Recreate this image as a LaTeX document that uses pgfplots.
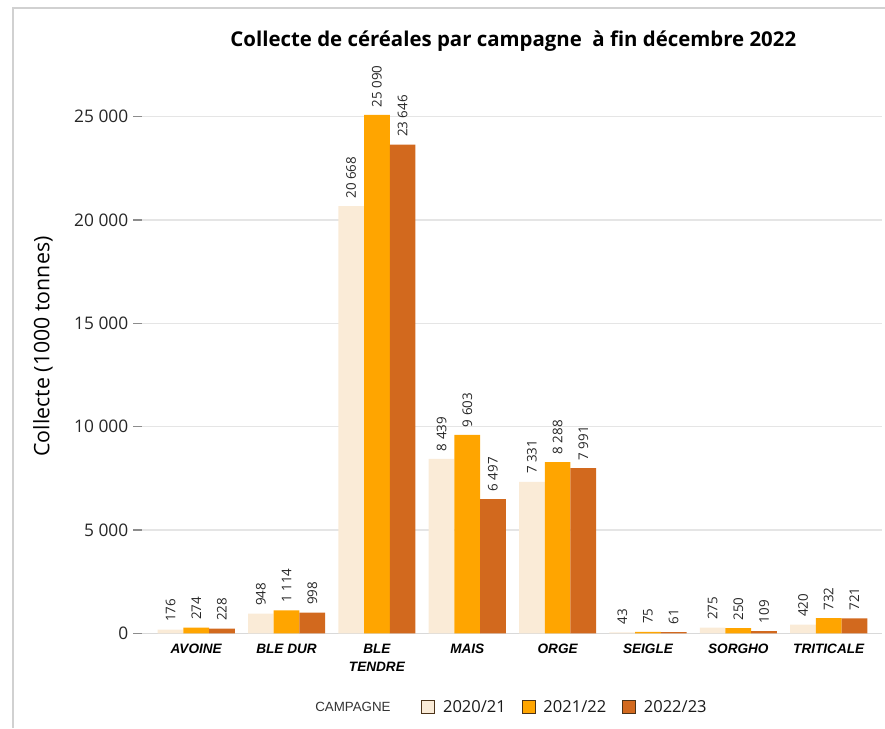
\documentclass[border=0pt]{standalone}
\usepackage{pgfplots}
\pgfplotsset{compat=1.18}
\usepackage{fontspec}
\setmainfont{Open Sans}
\newfontfamily\arialf{Liberation Sans}
\definecolor{cA}{RGB}{250,235,215}
\definecolor{cB}{RGB}{255,165,0}
\definecolor{cC}{RGB}{210,105,30}
\newcommand{\p}[1]{#1*0.75pt}
\begin{document}
\begin{tikzpicture}
\path[use as bounding box] (0,0) rectangle (\p{885},-\p{728});
\draw[color=black!18, line width=1.5pt] (\p{13.3},-\p{728}) -- (\p{13.3},-\p{8.3}) -- (\p{885},-\p{8.3});
\node[anchor=base, font=\bfseries\fontsize{15.3}{18}\selectfont, inner sep=0pt] at (\p{513.3},-\p{46.7}) {Collecte de céréales par campagne~~à fin décembre 2022};
\node[rotate=90, anchor=center, font=\fontsize{16}{19}\selectfont, inner sep=0pt] at (\p{43},-\p{346.5}) {Collecte (1000 tonnes)};
\node[anchor=west, inner sep=0pt, font=\arialf\fontsize{10}{12}\selectfont, text=black!80] at (\p{315},-\p{707.3}) {CAMPAGNE};
\begin{axis}[
  at={(\p{142},-\p{633.3})}, anchor=south west,
  scale only axis, width=\p{740}, height=\p{557.9},
  xmin=-0.6, xmax=7.59, ymin=0, ymax=27000,
  enlargelimits=false, clip=false,
  axis lines*=left,
  x axis line style={draw=black!15, line width=1.2pt},
  y axis line style={draw=none},
  ybar=0pt, bar width=\p{25.7},
  xtick={0,...,7},
  xticklabels={AVOINE,BLE DUR,{BLE\\[1.5pt]TENDRE},MAIS,ORGE,SEIGLE,SORGHO,TRITICALE},
  xtick style={draw=none},
  xticklabel style={font=\arialf\bfseries\itshape\fontsize{10.2}{12.5}\selectfont, align=center, inner sep=0pt, anchor=north, yshift=-1pt},
  ytick={0,5000,10000,15000,20000,25000},
  scaled y ticks=false,
  ytick style={draw=black!45, line width=1pt},
  tick align=outside, major tick length=\p{9},
  yticklabel style={font=\fontsize{13}{15}\selectfont, text=black!85},
  ymajorgrids, grid style={draw=black!10, line width=1.1pt},
  /pgf/number format/.cd, fixed, precision=0, 1000 sep={\ }, assume math mode=true,
  /pgfplots/.cd,
  nodes near coords,
  every node near coord/.append style={rotate=90, anchor=west, inner xsep=5.7pt, inner ysep=0pt, font=\fontsize{10}{12}\selectfont, text=black!85},
  legend columns=-1,
  legend style={draw=none, fill=none, at={(axis description cs:0.3773,-0.132)}, anchor=west, inner sep=0pt, nodes={inner sep=0pt, font=\fontsize{12.4}{14}\selectfont, text=black!90},
    /tikz/every odd column/.append style={column sep=6pt},
    /tikz/every even column/.append style={column sep=12pt}},
  legend image code/.code={\draw[#1, draw=black!60!brown, line width=0.7pt] (0pt,-5pt) rectangle (9.5pt,5.2pt);},
]
\addplot[fill=cA, draw=none] coordinates {(0,176) (1,948) (2,20668) (3,8439) (4,7331) (5,43) (6,275) (7,420)};
\addplot[fill=cB, draw=none] coordinates {(0,274) (1,1114) (2,25090) (3,9603) (4,8288) (5,75) (6,250) (7,732)};
\addplot[fill=cC, draw=none] coordinates {(0,228) (1,998) (2,23646) (3,6497) (4,7991) (5,61) (6,109) (7,721)};
\legend{2020/21,2021/22,2022/23}
\end{axis}
\end{tikzpicture}
\end{document}
